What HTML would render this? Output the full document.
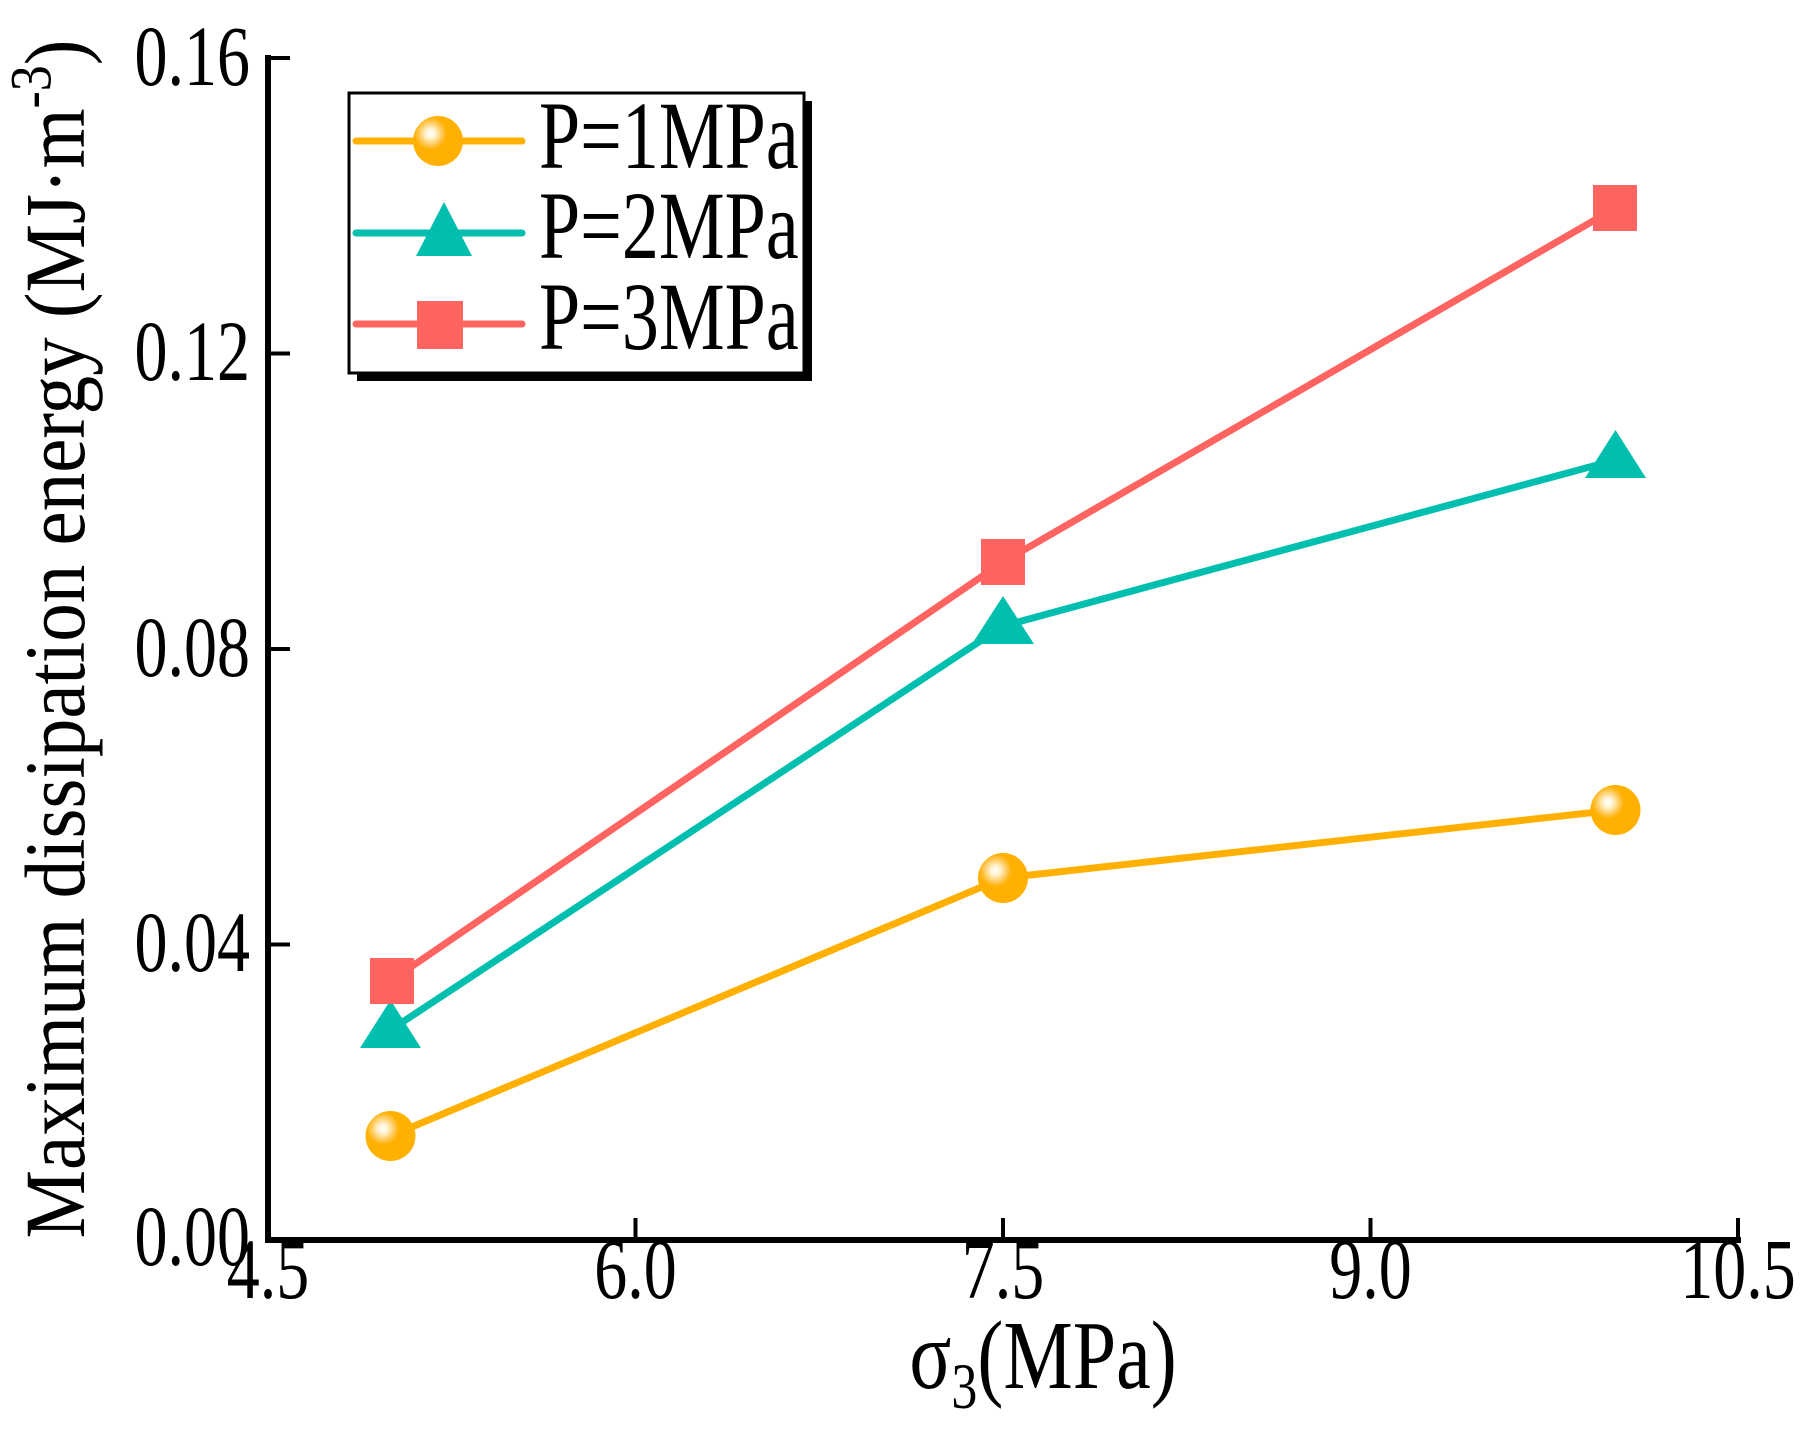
<!DOCTYPE html>
<html><head><meta charset="utf-8"><style>body{margin:0;background:#fff}</style></head><body>
<svg width="1814" height="1428" viewBox="0 0 1814 1428" xmlns="http://www.w3.org/2000/svg" font-family="Liberation Serif, serif">
<defs>
<radialGradient id="g" cx="0.35" cy="0.35" r="0.65">
<stop offset="0" stop-color="#fff"/><stop offset="0.15" stop-color="#fff3d0"/><stop offset="0.35" stop-color="#ffc95a"/><stop offset="0.5" stop-color="#ffb000"/><stop offset="1" stop-color="#ffb000"/>
</radialGradient>
</defs>
<g stroke="#000" stroke-width="6" fill="none">
<line x1="268" y1="55" x2="268" y2="1243"/>
<line x1="265" y1="1240" x2="1741" y2="1240"/>
</g>
<g stroke="#000" stroke-width="4">
<line x1="268" y1="58" x2="290" y2="58"/>
<line x1="268" y1="353.5" x2="290" y2="353.5"/>
<line x1="268" y1="649" x2="290" y2="649"/>
<line x1="268" y1="944.5" x2="290" y2="944.5"/>
<line x1="635.5" y1="1240" x2="635.5" y2="1218"/>
<line x1="1003" y1="1240" x2="1003" y2="1218"/>
<line x1="1370.5" y1="1240" x2="1370.5" y2="1218"/>
<line x1="1738" y1="1240" x2="1738" y2="1218"/>
</g>
<g font-size="66" text-anchor="end">
<text transform="translate(250,85) scale(1,1.3)">0.16</text>
<text transform="translate(250,380) scale(1,1.3)">0.12</text>
<text transform="translate(250,676) scale(1,1.3)">0.08</text>
<text transform="translate(250,971) scale(1,1.3)">0.04</text>
<text transform="translate(250,1265) scale(1,1.3)">0.00</text>
</g>
<g font-size="66" text-anchor="middle">
<text transform="translate(268,1298) scale(1,1.3)">4.5</text>
<text transform="translate(635.5,1298) scale(1,1.3)">6.0</text>
<text transform="translate(1003,1298) scale(1,1.3)">7.5</text>
<text transform="translate(1370.5,1298) scale(1,1.3)">9.0</text>
<text transform="translate(1738,1298) scale(1,1.3)">10.5</text>
</g>
<text transform="translate(1043,1388) scale(1,1.25)" font-size="78" text-anchor="middle">σ<tspan font-size="52" dy="16">3</tspan><tspan dy="-16">(MPa)</tspan></text>
<text transform="translate(84,639) rotate(-90) scale(1,1.12)" font-size="77" text-anchor="middle">Maximum dissipation energy (MJ·m<tspan font-size="52" dy="-30">-3</tspan><tspan dy="30">)</tspan></text>
<g fill="none" stroke-width="7" stroke-linecap="round" stroke-linejoin="round">
<polyline stroke="#ffb000" points="390.5,1136 1003,878 1615.5,810"/>
<polyline stroke="#00bfae" points="390.5,1030 1003,626 1615.5,460"/>
<polyline stroke="#ff6461" points="390.5,981 1003,562 1615.5,208"/>
</g>
<g fill="url(#g)">
<circle cx="390.5" cy="1136" r="25"/><circle cx="1003" cy="878" r="25"/><circle cx="1615.5" cy="810" r="25"/>
</g>
<g fill="#00bfae">
<polygon points="390.5,1000 360,1048 421,1048"/>
<polygon points="1003,596 972,644 1034,644"/>
<polygon points="1615.5,430 1585,478 1646,478"/>
</g>
<g fill="#ff6461">
<rect x="370" y="958" width="44" height="46"/>
<rect x="981" y="539" width="44" height="46"/>
<rect x="1593" y="185" width="44" height="46"/>
</g>
<rect x="357" y="101" width="455" height="280" fill="#000"/>
<rect x="349" y="93" width="455" height="280" fill="#fff" stroke="#000" stroke-width="3"/>
<g stroke-width="7" stroke-linecap="round">
<line x1="356" y1="141" x2="522" y2="141" stroke="#ffb000"/>
<line x1="356" y1="233" x2="522" y2="233" stroke="#00bfae"/>
<line x1="356" y1="324" x2="522" y2="324" stroke="#ff6461"/>
</g>
<circle cx="438" cy="141" r="25" fill="url(#g)"/>
<polygon points="444,202 416,256 472,256" fill="#00bfae"/>
<rect x="417" y="301" width="46" height="48" fill="#ff6461"/>
<g font-size="74">
<text transform="translate(539,168) scale(1,1.3)">P=1MPa</text>
<text transform="translate(539,258) scale(1,1.3)">P=2MPa</text>
<text transform="translate(539,349) scale(1,1.3)">P=3MPa</text>
</g>
</svg>
</body></html>
